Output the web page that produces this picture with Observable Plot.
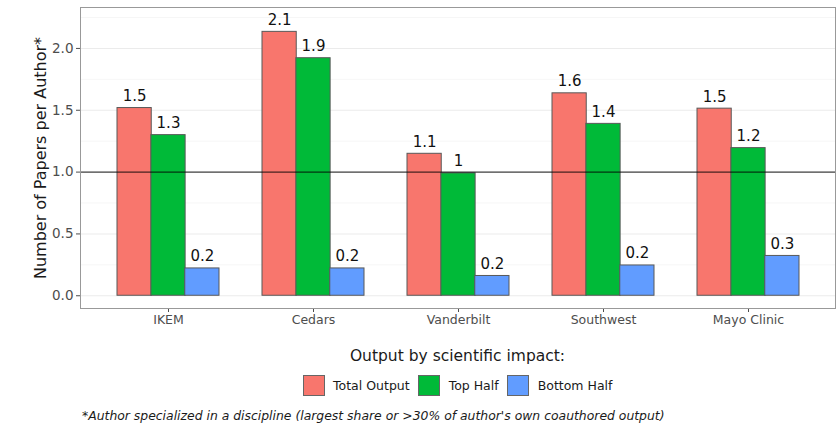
<!DOCTYPE html>
<html>
<head>
<meta charset="utf-8">
<script src="https://cdn.jsdelivr.net/npm/d3@7"></script>
<script src="https://cdn.jsdelivr.net/npm/@observablehq/plot@0.6"></script>
<style>
  html, body { margin: 0; padding: 0; background: #fff; }
  body { width: 839px; height: 424px; overflow: hidden; font-family: "DejaVu Sans", sans-serif; color: #1a1a1a; }
  #legend { padding-left: 80px; padding-right: 4px; text-align: center; }
  #legend .title { font-size: 15.5px; line-height: 18px; margin-top: 12px; color: #1a1a1a; }
  #legend .row { display: flex; justify-content: center; align-items: center; margin-top: 9px; height: 23px; }
  #legend .key { width: 20px; height: 19.5px; border: 1.5px solid #666; box-sizing: content-box; }
  #legend .lab { font-size: 12.5px; margin-left: 8.5px; margin-right: 8.5px; color: #1a1a1a; }
  #legend .lab:last-child { margin-right: 0; }
  #caption { font-size: 12.4px; font-style: italic; line-height: 15px; margin-left: 82px; margin-top: 11px; color: #1a1a1a; }
</style>
</head>
<body>
<div id="chart"></div>
<div id="legend"></div>
<div id="caption"></div>
<script>
// ---- data ----
const categories = ["IKEM", "Cedars", "Vanderbilt", "Southwest", "Mayo Clinic"];
const seriesNames = ["Total Output", "Top Half", "Bottom Half"];
const seriesColors = ["#F8766D", "#00BA38", "#619CFF"];
const totalOutput = [1.518, 2.134, 1.148, 1.637, 1.513];
const topHalf = [1.299, 1.921, 0.99, 1.39, 1.194];
const bottomHalf = [0.221, 0.221, 0.16, 0.245, 0.322];
const majorTicks = [0, 0.5, 1.0, 1.5, 2.0];
const minorTicks = [0.25, 0.75, 1.25, 1.75, 2.25];
const referenceLine = [1];
const yTitle = "Number of Papers per Author*";
const legendTitle = "Output by scientific impact:";
const captionText = "*Author specialized in a discipline (largest share or >30% of author's own coauthored output)";

const seriesValues = [totalOutput, topHalf, bottomHalf];
const rows = [];
seriesNames.forEach((s, k) => {
  categories.forEach((c, i) => {
    const v = seriesValues[k][i];
    rows.push({category: c, series: s, k, value: v, label: String(Math.round(v * 10) / 10)});
  });
});

// ---- layout ----
const W = 839, H = 335, ML = 80, MR = 4, MT = 7, MB = 27;
const padInner = 0.3, padOuter = 0.25;
const step = (W - ML - MR) / (categories.length - padInner + 2 * padOuter);
const third = step * (1 - padInner) / 3;

const marks = [
  Plot.ruleY(minorTicks, {stroke: "#f2f2f2", strokeWidth: 0.7}),
  Plot.ruleY(majorTicks, {stroke: "#ebebeb", strokeWidth: 1.1})
];
seriesNames.forEach((s, k) => {
  const d = rows.filter(r => r.k === k);
  marks.push(Plot.barY(d, {
    x: "category", y1: 0, y2: "value",
    fill: seriesColors[k], stroke: "#595959", strokeWidth: 1,
    insetLeft: k * third, insetRight: (2 - k) * third
  }));
});
marks.push(Plot.ruleY(referenceLine, {stroke: "#000", strokeWidth: 0.9}));
seriesNames.forEach((s, k) => {
  const d = rows.filter(r => r.k === k);
  marks.push(Plot.text(d, {
    x: "category", y: "value", text: "label",
    dx: (k - 1) * third, dy: -7, lineAnchor: "bottom",
    fontSize: 15, fill: "#111"
  }));
});
marks.push(Plot.axisY({ticks: majorTicks, tickFormat: d3.format(".1f"), tickSize: 4, tickPadding: 3, fontSize: 13.5, color: "#4d4d4d", label: null}));
marks.push(Plot.axisX({tickSize: 4, tickPadding: 3, fontSize: 12.5, color: "#4d4d4d", label: null}));
marks.push(Plot.text([yTitle], {frameAnchor: "left", dx: -40, rotate: -90, textAnchor: "middle", lineAnchor: "middle", fontSize: 16, fill: "#1a1a1a"}));
marks.push(Plot.frame({stroke: "#999", strokeWidth: 1}));

const chart = Plot.plot({
  width: W, height: H,
  marginLeft: ML, marginRight: MR, marginTop: MT, marginBottom: MB,
  style: {fontFamily: "DejaVu Sans", background: "#fff", overflow: "visible"},
  x: {domain: categories, paddingInner: padInner, paddingOuter: padOuter, axis: null},
  y: {domain: [-0.103, 2.331], axis: null},
  marks
});
document.getElementById("chart").appendChild(chart);

// ---- legend ----
const legend = document.getElementById("legend");
const t = document.createElement("div");
t.className = "title"; t.textContent = legendTitle;
legend.appendChild(t);
const row = document.createElement("div");
row.className = "row";
seriesNames.forEach((s, k) => {
  const key = document.createElement("span");
  key.className = "key"; key.style.background = seriesColors[k];
  const lab = document.createElement("span");
  lab.className = "lab"; lab.textContent = s;
  row.appendChild(key); row.appendChild(lab);
});
legend.appendChild(row);
document.getElementById("caption").textContent = captionText;
</script>
</body>
</html>
